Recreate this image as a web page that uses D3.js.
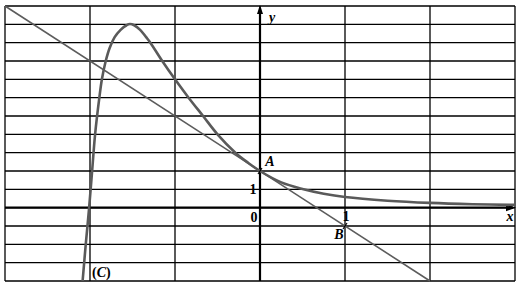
<!DOCTYPE html>
<html>
<head>
<meta charset="utf-8">
<script src="https://cdn.jsdelivr.net/npm/d3@7"></script>
<style>
  html, body { margin: 0; padding: 0; background: #fff; }
  svg { display: block; }
</style>
</head>
<body>
<svg id="chart" width="521" height="291"></svg>
<script>
// grille : une colonne par unité en x, une ligne par unité en y
const xGrid = [-3, -2, -1, 0, 1, 2, 3];
const yGrid = [-4, -3, -2, -1, 0, 1, 2, 3, 4, 5, 6, 7, 8, 9, 10, 11];

// courbe (C)
const curveC = [
  [-2.087, -4.0], [-2.05, -2.0], [-2.01, 0], [-1.975, 2], [-1.94, 4],
  [-1.89, 6], [-1.86, 7], [-1.815, 8], [-1.77, 8.7], [-1.71, 9.3],
  [-1.64, 9.7], [-1.57, 9.95], [-1.53, 10.02], [-1.48, 9.95], [-1.41, 9.7],
  [-1.34, 9.3], [-1.29, 9.0], [-1.15, 8.0], [-1.0, 7.0], [-0.84, 6.0],
  [-0.67, 5.0], [-0.5, 4.0], [-0.29, 3.0], [-0.14, 2.45], [0, 2],
  [0.25, 1.38], [0.5, 1.02], [0.75, 0.76], [1, 0.58], [1.5, 0.38],
  [2, 0.26], [2.5, 0.19], [3, 0.15]
];

// tangente (AB)
const tangent = [[-3, 11], [2, -4]];

// points et étiquettes
const points = [
  { name: "A", x: 0, y: 2 },
  { name: "B", x: 1, y: -1 }
];

const svg = d3.select("#chart");
const x = d3.scaleLinear().domain([-3, 3]).range([5, 515]);
const y = d3.scaleLinear().domain([-4, 11]).range([281, 6]);

const g = svg.append("g");

// --- Grille ---
g.selectAll(".vgrid")
  .data(xGrid)
  .enter()
  .append("line")
  .attr("x1", d => x(d)).attr("x2", d => x(d))
  .attr("y1", y(-4)).attr("y2", y(11))
  .attr("stroke", "#000")
  .attr("stroke-width", 1.3);

g.selectAll(".hgrid")
  .data(yGrid)
  .enter()
  .append("line")
  .attr("x1", x(-3)).attr("x2", x(3))
  .attr("y1", d => y(d)).attr("y2", d => y(d))
  .attr("stroke", "#000")
  .attr("stroke-width", 1.3);

// --- Axes ---
g.append("line")
  .attr("x1", x(-3)).attr("x2", x(3) - 2)
  .attr("y1", y(0)).attr("y2", y(0))
  .attr("stroke", "#000").attr("stroke-width", 2.2);
g.append("line")
  .attr("x1", x(0)).attr("x2", x(0))
  .attr("y1", y(-4)).attr("y2", y(11) + 2)
  .attr("stroke", "#000").attr("stroke-width", 2.2);

// flèches
g.append("path")
  .attr("d", `M${x(3) + 1},${y(0)} L${x(3) - 9},${y(0) - 3.5} L${x(3) - 9},${y(0) + 3.5} Z`)
  .attr("fill", "#000");
g.append("path")
  .attr("d", `M${x(0)},${y(11) - 1} L${x(0) - 3},${y(11) + 8} L${x(0) + 3},${y(11) + 8} Z`)
  .attr("fill", "#000");

// --- Tangente ---
const line = d3.line().x(d => x(d[0])).y(d => y(d[1]));
g.append("path")
  .attr("d", line(tangent))
  .attr("fill", "none")
  .attr("stroke", "#5c5c5c")
  .attr("stroke-width", 1.6);

// --- Courbe ---
const curve = d3.line()
  .x(d => x(d[0]))
  .y(d => y(d[1]))
  .curve(d3.curveCatmullRom.alpha(0.5));
g.append("path")
  .attr("d", curve(curveC))
  .attr("fill", "none")
  .attr("stroke", "#5a5a5a")
  .attr("stroke-width", 2.6);

// petites marques sur A et B
g.selectAll(".mark")
  .data(points)
  .enter()
  .append("path")
  .attr("d", d => `M${x(d.x) - 2},${y(d.y) + 3} L${x(d.x) + 2},${y(d.y) - 3}`)
  .attr("stroke", "#000")
  .attr("stroke-width", 1.2);

// --- Textes ---
const font = "'Liberation Serif', 'DejaVu Serif', serif";
const labels = [
  { t: "y", px: 272, py: 22, it: true },
  { t: "x", px: 510, py: 221, it: true },
  { t: "A", px: 270, py: 166, it: true },
  { t: "B", px: 339, py: 239, it: true },
  { t: "1", px: 253, py: 194, it: false },
  { t: "0", px: 254, py: 222, it: false },
  { t: "1", px: 346, py: 221, it: false }
];
g.selectAll(".lbl")
  .data(labels)
  .enter()
  .append("text")
  .attr("x", d => d.px)
  .attr("y", d => d.py)
  .attr("text-anchor", "middle")
  .style("font-family", font)
  .style("font-size", "14px")
  .style("font-weight", "bold")
  .style("font-style", d => d.it ? "italic" : "normal")
  .text(d => d.t);

// étiquette (C)
const cl = g.append("text")
  .attr("x", 92)
  .attr("y", 277)
  .style("font-family", font)
  .style("font-size", "14px")
  .style("font-weight", "bold");
cl.append("tspan").text("(");
cl.append("tspan").style("font-style", "italic").text("C");
cl.append("tspan").text(")");
</script>
</body>
</html>
